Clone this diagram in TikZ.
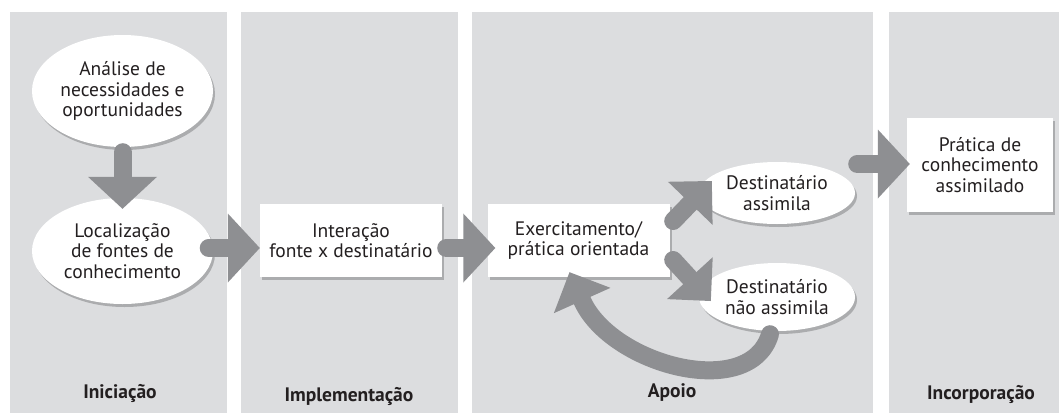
\documentclass[tikz,border=0pt]{standalone}
\usepackage{fontspec}
\setmainfont{PT Sans}
\usetikzlibrary{arrows.meta,shapes.geometric,calc,shadows}
\definecolor{panelgray}{HTML}{DCDDDF}
\definecolor{arrowgray}{HTML}{8E8F92}
\definecolor{txt}{HTML}{231F20}
\begin{document}
\begin{tikzpicture}[x=1pt,y=-1pt,
  font=\fontsize{19.5}{20.5}\selectfont,
  panel/.style={fill=panelgray,draw=none},
  shad/.style={drop shadow={shadow xshift=2pt,shadow yshift=-3pt,fill=black,opacity=0.22}},
  ell/.style={ellipse,fill=white,draw=none,inner sep=0pt,inner xsep=-8pt,align=center,text=txt,shad},
  boxnode/.style={rectangle,fill=white,draw=none,inner sep=0pt,align=center,text=txt,shad},
  phase/.style={font=\bfseries\fontsize{19.5}{20}\selectfont,text=txt},
  fat/.style={draw=arrowgray,line width=18pt,line cap=round,
    -{Triangle[length=32pt,width=69pt,line width=0pt]}},
  fatsm/.style={draw=arrowgray,line width=18pt,line cap=round,
    -{Triangle[length=31pt,width=62pt,line width=0pt]}}
]
\fill[white] (0,0) rectangle (1059,415);
\useasboundingbox (0,0) rectangle (1059,415);
% panels
\fill[panel] (10,12) rectangle (227,413);
\fill[panel] (241,12) rectangle (458,413);
\fill[panel] (472,12) rectangle (873,413);
\fill[panel] (889,12) rectangle (1059,413);
% nodes
\node[ell,minimum width=181pt,minimum height=112pt] (A) at (122.5,91) {Análise de\\necessidades e\\oportunidades};
\node[ell,minimum width=181pt,minimum height=106pt] (B) at (122.5,251) {Localização\\de fontes de\\conhecimento};
\node[boxnode,minimum width=182pt,minimum height=73pt] (I) at (351,240.5) {Interação\\fonte x destinatário};
\node[boxnode,minimum width=182pt,minimum height=73pt] (E) at (578.5,240.5) {Exercitamento/\\prática orientada};
\node[ell,minimum width=156pt,minimum height=62pt] (C) at (777,193) {Destinatário\\assimila};
\node[ell,minimum width=156pt,minimum height=68pt] (D) at (777,297) {Destinatário\\não assimila};
\node[boxnode,minimum width=146pt,minimum height=94pt] (P) at (980,165) {Prática de\\conhecimento\\assimilado};
% phase labels
\node[phase] (l1) at (120,393) {Iniciação};
\node[phase] (l2) at (349,396) {Implementação};
\node[phase] (l3) at (672,393) {Apoio};
\node[phase] (l4) at (981,394) {Incorporação};
% arrows
\draw[fat] ($(A.south)+(0,5)$) -- ($(B.north)+(0,11)$);
\draw[fat] ($(B.east)+(-4.5,-3)$) -- ($(I.west)+(0,7.5)$);
\draw[fat] ($(I.east)+(4,7.5)$) -- ($(E.west)+(8,7.5)$);
\draw[fat] ($(C.east)+(2,-29)$) -- ($(P.west)+(3,-1)$);
\draw[fatsm] ($(E.east)+(3.5,-19.5)$) -- ($(C.west)+(13,-12)$);
\draw[fatsm] ($(E.east)+(3.5,19.5)$) -- ($(D.west)+(12,4)$);
\draw[fatsm] ($(D.south)+(-7,3)$) .. controls (750,402) and (611,365) .. ($(E.south)+(-9,-5)$);
\end{tikzpicture}
\end{document}
